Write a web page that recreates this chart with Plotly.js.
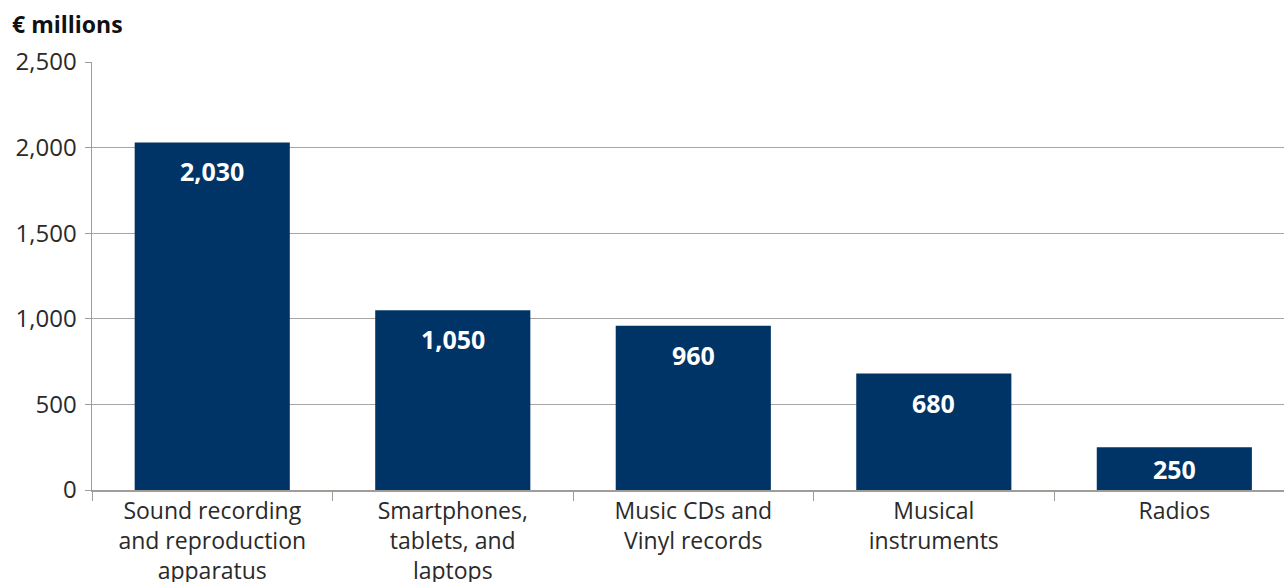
<!DOCTYPE html>
<html><head><meta charset="utf-8">
<script src="https://cdn.plot.ly/plotly-3.0.1.min.js"></script>
<style>html,body{margin:0;padding:0;overflow:hidden;background:#fff}</style>
</head><body><div id="chart" style="width:1284px;height:582px"></div>
<script>
const categories = ["Sound recording<br>and reproduction<br>apparatus", "Smartphones,<br>tablets, and<br>laptops", "Music CDs and<br>Vinyl records", "Musical<br>instruments", "Radios"];
const values = [2030, 1050, 960, 680, 250];
const valueLabels = ["2,030", "1,050", "960", "680", "250"];
const yTickVals = [0, 500, 1000, 1500, 2000, 2500];
const yTickText = ["0", "500", "1,000", "1,500", "2,000", "2,500"];

const font = "'Open Sans', Lato, sans-serif";
const plotH = 428, yMax = 2500;
const trace = {
  type: "bar", x: categories, y: values,
  marker: {color: "#003466"}, width: 0.645, hoverinfo: "none"
};
const annotations = categories.map((c, i) => ({
  x: c, y: values[i], xref: "x", yref: "y", text: "<b>" + valueLabels[i] + "</b>",
  showarrow: false, yanchor: "middle",
  yshift: -Math.min(29, values[i] * plotH / yMax / 2),
  font: {family: font, size: 25, color: "#ffffff"}
}));
annotations.push({
  xref: "paper", yref: "paper", x: -82/1192, y: 1 + 38/428, xanchor: "left", yanchor: "middle",
  text: "<b>€ millions</b>", showarrow: false, font: {family: font, size: 23, color: "#111"}
});
const layout = {
  width: 1284, height: 582,
  margin: {l: 92, r: 0, t: 62, b: 92},
  paper_bgcolor: "#fff", plot_bgcolor: "#fff",
  showlegend: false, bargap: 0.355,
  xaxis: {
    range: [-0.5, 4.456], ticks: "outside", tickson: "boundaries", ticklen: 9, tickcolor: "#a09d99",
    showline: true, linecolor: "#a09d99", linewidth: 1.5, showgrid: false, fixedrange: true,
    tickfont: {family: font, size: 23, color: "#2a2a2a"}, ticklabelstandoff: 0
  },
  yaxis: {
    range: [0, 2500], tickvals: yTickVals, ticktext: yTickText, ticks: "outside", ticklen: 6,
    tickcolor: "#a09d99", showline: true, linecolor: "#a09d99", linewidth: 1.5,
    gridcolor: "#a8a5a2", gridwidth: 1.2, zeroline: false, fixedrange: true,
    tickfont: {family: font, size: 24, color: "#2a2a2a"}, ticklabelstandoff: 3
  },
  annotations: annotations
};
Plotly.newPlot("chart", [trace], layout, {displayModeBar: false, staticPlot: true});
</script></body></html>
